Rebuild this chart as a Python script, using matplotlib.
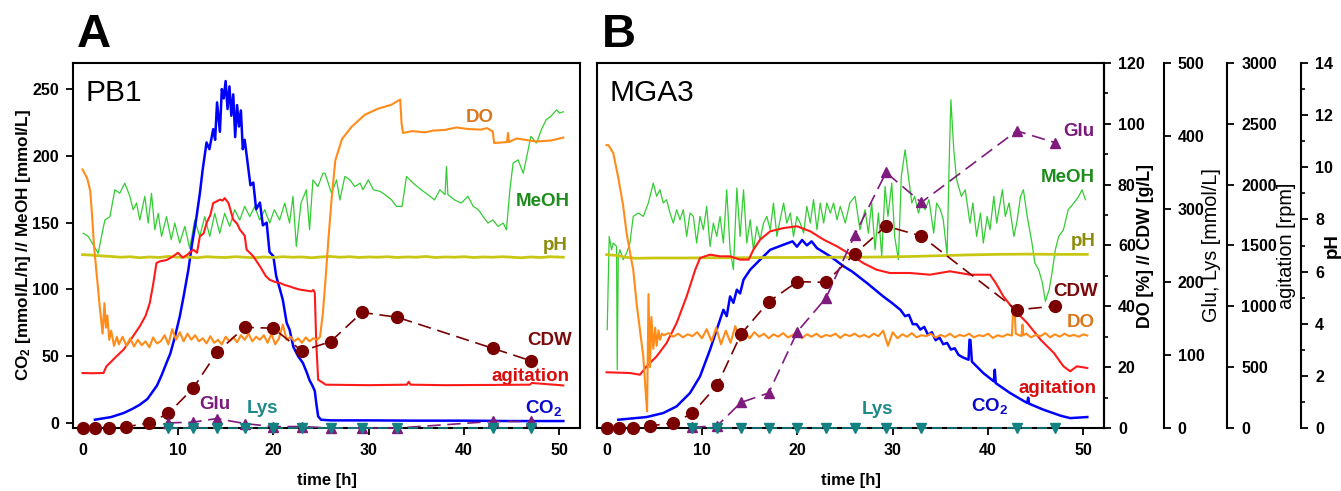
import matplotlib.pyplot as plt
from matplotlib.ticker import MultipleLocator

plt.rcParams['font.family'] = ['Liberation Sans', 'DejaVu Sans']
plt.rcParams['font.weight'] = 'bold'
plt.rcParams['mathtext.fontset'] = 'custom'
plt.rcParams['mathtext.rm'] = 'Liberation Sans'
plt.rcParams['mathtext.bf'] = 'Liberation Sans:bold'
plt.rcParams['mathtext.default'] = 'bf'
plt.rcParams['axes.linewidth'] = 1.5

# ---- offline samples (same sampling times in both runs)
sample_t = [0, 1.3, 2.8, 4.6, 7.0, 9.0, 11.6, 14.1, 17.0, 20.0, 23.0, 26.0, 29.3, 33.0, 43.0, 47.0]
amino_t = [9.0, 11.6, 14.1, 17.0, 20.0, 23.0, 26.0, 29.3, 33.0, 43.0, 47.0]

pb1_cdw = [0, 0, 0.1, 0.4, 1.7, 4.8, 13.1, 24.9, 33.1, 32.8, 25.3, 28.4, 38.0, 36.4, 26.2, 22.1]
pb1_glu = [7, 8, 13, 6, 2, 2, 0, 0, 0, 9, 9]
pb1_lys = [0, 0, 0, 0, 0, 0, 0, 0, 0, 0, 0]

mga3_cdw = [0.1, 0.1, 0.1, 0.7, 1.7, 4.8, 14.1, 30.9, 41.5, 48.1, 47.9, 57.2, 66.4, 63.1, 38.8, 40.1]
mga3_glu = [1, 3, 35, 48, 132, 178, 264, 350, 309, 407, 391]
mga3_lys = [0, 0, 0, 0, 0, 0, 0, 0, 0, 0, 0]

# ---- PB1 online signals
pb1_co2_t = [1.3, 3.0, 4.3, 5.2, 6.0, 6.8, 7.4, 7.8, 8.3, 8.8, 9.2, 9.7, 10.2, 10.6, 11.1, 11.5, 11.9, 12.3,
             12.6, 13.0, 13.3, 13.7, 13.9, 14.1, 14.4, 14.6, 14.8, 15.0, 15.2, 15.4, 15.6, 15.8, 16.0, 16.2,
             16.4, 16.6, 16.8, 17.0, 17.3, 17.6, 17.9, 18.2, 18.6, 18.9, 19.3, 19.6, 20.0, 20.3, 20.7, 21.0,
             21.4, 21.7, 22.1, 22.6, 23.1, 23.5, 23.8, 24.1, 24.35, 24.5, 24.7, 25.0, 26.0, 30.0, 35.0, 40.0,
             45.0, 50.4]
pb1_co2 = [2.5, 4.5, 7.5, 10.5, 13.7, 18, 24, 28, 36, 45, 52, 65, 80, 95, 115, 135, 152, 172,
           190, 210, 205, 220, 212, 240, 218, 250, 243, 256, 235, 252, 230, 246, 214, 238,
           222, 234, 205, 212, 195, 178, 180, 160, 165, 148, 150, 128, 125, 110, 100, 92,
           75, 70, 57, 50, 45, 38, 32, 28, 24, 15, 5, 2.5, 2, 2, 1.8, 1.8,
           1.5, 1.5]

pb1_meoh_t = [0.07, 0.6, 1.12, 1.64, 1.99, 2.34, 2.87, 3.39, 3.9, 4.43, 4.96, 5.31, 5.66, 6.0, 6.53, 6.88,
              7.23, 7.58, 7.93, 8.28, 8.8, 9.3, 9.67, 10.19, 10.72, 11.24, 11.76, 12.29, 12.81, 13.34,
              13.86, 14.38, 14.9, 15.43, 15.95, 16.48, 17.0, 17.53, 18.05, 18.57, 19.1, 19.62, 20.1,
              20.66, 21.2, 21.7, 22.06, 22.41, 22.9, 23.46, 23.8, 24.15, 24.68, 25.2, 25.41, 25.76,
              26.1, 26.63, 26.98, 27.5, 28.03, 28.55, 29.1, 29.4, 29.95, 30.5, 31.2, 31.7, 32.4, 32.9,
              33.5, 33.96, 34.66, 35.5, 36.2, 36.9, 37.46, 38.0, 38.15, 38.3, 39.0, 39.7, 40.4, 40.95,
              41.5, 42.0, 42.5, 43.0, 43.57, 44.1, 44.44, 44.8, 45.14, 45.66, 46.2, 46.5, 47.0, 47.6,
              48.1, 48.6, 49.1, 49.7, 50.0, 50.4]
pb1_meoh = [142, 139.7, 133.5, 127, 139.7, 152, 154.5, 174.6, 172, 179.6, 169.7, 159.7, 164.7, 152, 169.7, 149.7,
            172, 144.7, 157, 139.7, 154.5, 137.2, 149.7, 134.7, 147.2, 130.7, 152, 139.7, 154.5, 139.7,
            157, 142, 157, 147.2, 159.7, 152, 162.2, 154.5, 162.2, 152, 159.7, 149.7, 159.7,
            152, 164.7, 149.7, 169.7, 132.2, 164.7, 174.6, 144.7, 182, 177, 187, 187, 179.6,
            172, 182, 167, 184.6, 182, 177, 179.6, 174.6, 182, 174.6, 173.4, 171, 167, 162.2,
            162.2, 184.6, 179.6, 174.6, 171, 167, 174.6, 171, 192, 171, 167, 164.7, 169.7, 162.2,
            159.7, 154.5, 149.7, 152, 147.2, 149.7, 144.7, 174.6, 194.6, 197, 187, 197, 214.6, 209.6,
            219.6, 227, 229.6, 234.5, 232, 233]

pb1_do_t = [0, 0.5, 0.8, 1.0, 1.2, 1.5, 1.8, 2.1, 2.3, 2.45, 2.6, 2.8, 3.0, 3.3, 3.6,
            3.8, 4.2, 4.6, 5.0, 5.4, 5.8, 6.2, 6.6, 7.0, 7.4, 7.8, 8.2, 8.6, 9.0, 9.4, 9.8, 10.2, 10.6,
            11.0, 11.4, 11.8, 12.2, 12.6, 13.0, 13.4, 13.8, 14.2, 14.6, 15.0, 15.4, 15.8, 16.2, 16.6,
            17.0, 17.4, 17.8, 18.2, 18.6, 19.0, 19.4, 19.8, 20.2, 20.6, 21.0, 21.4, 21.8, 22.2, 22.6,
            23.0, 23.4, 23.8, 24.2, 24.6,
            24.9, 25.2, 25.5, 25.8, 26.1, 26.5, 27.2, 28.2, 29.6, 31.0, 32.4, 33.3, 33.45, 33.6, 34.5,
            35.9, 36.8, 38.0, 39.2, 40.4, 41.8, 42.4, 43.0, 43.15, 44.5, 44.6, 44.7, 45.5, 46.3, 47.5,
            49.1, 50.4]
pb1_do = [85, 82, 78, 70, 60, 50, 40, 31, 41, 33, 37, 29, 32, 27, 30,
          27.5, 30.0, 27.0, 29.5, 26.8, 29.0, 27.2, 28.5, 26.5, 29.8, 27.8, 28.5, 30.5, 27.5, 32.5, 29.0, 31.5, 28.5,
          31.0, 29.0, 30.5, 28.5, 29.5, 27.8, 30.2, 28.0, 29.0, 27.5, 30.0, 28.5, 29.8, 28.2, 30.5,
          29.0, 31.0, 28.5, 30.0, 29.0, 30.5, 28.0, 31.0, 27.5, 29.5, 34.0, 29.0, 30.0, 28.5, 29.5,
          28.0, 29.8, 28.5, 29.5, 29.0,
          30, 38, 50, 63, 75, 88, 95, 99, 103, 105, 106.3, 108, 100, 97, 97.6,
          97.2, 97.8, 98, 98.8, 98.3, 98.1, 98.6, 97.5, 93.7, 94, 97, 94, 95.2, 94.8, 94.2,
          94.5, 95.5]

pb1_agit_t = [0, 1.0, 2.2, 2.5, 3.0, 3.5, 4.3, 5.0, 6.0, 6.6, 7.05, 7.4, 7.75, 8.1, 8.8, 9.5, 10.0, 10.5,
              11.0, 11.6, 12.0, 12.3, 12.7, 13.0, 13.4, 13.7, 14.0, 14.4, 14.7, 14.9, 15.3, 15.8, 16.2,
              16.5, 17.0, 17.2, 17.9, 18.6, 19.2, 19.6, 20.2, 20.7, 21.2, 21.7, 22.2, 22.8, 23.4, 24.0,
              24.2, 24.35, 24.5, 24.7, 25.5, 30.0, 34.0, 34.2, 34.4, 38.0, 43.0, 46.9, 47.1, 50.4]
pb1_agit = [452, 450, 452, 507, 545, 585, 644, 720, 836, 920, 1027, 1180, 1356, 1370, 1380, 1411, 1440, 1400,
            1425, 1466, 1440, 1575, 1600, 1685, 1750, 1849, 1860, 1877, 1870, 1890, 1849, 1712, 1680,
            1630, 1580, 1466, 1411, 1329, 1250, 1219, 1200, 1192, 1175, 1164, 1150, 1137, 1130, 1123,
            1135, 1110, 700, 397, 356, 352, 356, 380, 356, 352, 354, 356, 370, 350]

pb1_ph_t = [0, 1, 2, 3, 4, 5, 6, 7, 8, 9, 10, 11, 12, 13, 14, 15, 16, 17, 18, 19, 20, 21, 22, 23, 24,
            25, 26, 27, 28, 29, 30, 31, 32, 33, 34, 35, 36, 37, 38, 39, 40, 41, 42, 43, 44, 45, 46,
            47, 48, 49, 50.4]
pb1_ph = [6.65, 6.63, 6.60, 6.58, 6.55, 6.57, 6.53, 6.56, 6.54, 6.58, 6.55, 6.56, 6.53, 6.57, 6.55, 6.54,
          6.57, 6.55, 6.53, 6.56, 6.54, 6.57, 6.55, 6.56, 6.53, 6.56, 6.58, 6.55, 6.57, 6.54, 6.56, 6.55,
          6.57, 6.54, 6.56, 6.55, 6.58, 6.54, 6.56, 6.55, 6.57, 6.54, 6.56, 6.55, 6.57, 6.55, 6.53, 6.56,
          6.54, 6.57, 6.55]

# ---- MGA3 online signals
mga3_co2_t = [1.23, 4.2, 5.95, 7.35, 8.75, 9.8, 10.85, 11.55, 12.25, 12.6, 12.95, 13.3, 13.66, 14.0, 14.36,
              15.06, 16.1, 17.16, 18.56, 19.5, 19.96, 20.5, 21.0, 21.5, 22.06, 23.46, 24.86, 25.73, 27.3,
              29.0, 29.9, 30.8, 31.3, 31.7, 32.1, 32.5, 32.9, 33.3, 33.7, 34.1, 34.5, 34.9, 35.3, 35.7,
              36.1, 36.5, 36.9, 37.4, 37.95, 38.05, 38.15, 38.3, 39.5, 40.6, 40.7, 40.8, 42.3, 44.1, 44.2,
              44.3, 45.8, 47.6, 48.6, 50.4]
mga3_co2 = [2.5, 4.5, 7.5, 12.5, 22.5, 34.9, 54.9, 69.9, 84.8, 80, 94.8, 90, 99.8, 97, 107.3,
            114.8, 122.3, 129.7, 133.5, 136, 132, 137, 133, 136, 130.9, 124.8, 117.3, 113.5, 104.8,
            94.8, 90, 84.8, 80, 81, 74, 74, 70, 72, 66, 68, 62, 64, 59, 60,
            55, 56, 51, 49, 47.4, 62.4, 62, 46, 37.4, 31.2, 39.9, 29.9, 22.5, 15, 19,
            14.5, 10, 5.5, 3.7, 4.5]

mga3_meoh_t = [0.07, 0.28, 0.53, 0.7, 1.05, 1.12, 1.23, 1.4, 1.75, 2.1, 2.45, 2.8, 3.33, 3.85, 4.38, 4.9,
               5.25, 5.6, 5.95, 6.3, 6.65, 7.0, 7.35, 7.7, 8.05, 8.4, 8.75, 9.1, 9.45, 9.8, 10.15, 10.5,
               10.85, 11.2, 11.55, 11.9, 12.25, 12.6, 12.95, 13.3, 13.66, 14.0, 14.36, 14.7, 15.06, 15.4,
               15.76, 16.1, 16.46, 16.8, 17.16, 17.5, 17.86, 18.2, 18.56, 18.9, 19.26, 19.6, 19.96, 20.3,
               20.66, 21.0, 21.36, 21.7, 22.06, 22.4, 22.76, 23.1, 23.46, 23.8, 24.16, 24.5, 25.03, 25.5,
               26.05, 26.57, 27.1, 27.45, 27.8, 28.15, 28.5, 28.85, 29.2, 29.5, 29.9, 30.2, 30.6, 30.9,
               31.3, 31.6, 32.0, 32.3, 32.7, 33.0, 33.4, 33.8, 34.3, 34.6, 35.0, 35.3, 35.7, 35.96, 36.1,
               36.4, 36.7, 37.2, 37.6, 38.1, 38.4, 38.8, 39.2, 39.5, 39.9, 40.2, 40.6, 40.9, 41.5, 41.8,
               42.2, 42.7, 43.0, 43.4, 43.7, 44.1, 44.6, 44.9, 45.3, 45.7, 46.0, 46.4, 46.7, 47.05, 47.4,
               47.9, 48.4, 48.99, 49.5, 49.85, 50.2]
mga3_meoh = [69.9, 139.7, 129.7, 134.7, 132.2, 39.9, 124.8, 129.7, 122.3, 127.3, 134.7, 154.7, 157.2, 154.7, 164.7, 179.6,
             169.7, 174.6, 164.7, 167.2, 157.2, 149.7, 159.7, 152.2, 159.7, 139.7, 157.2, 154.7, 134.7, 154.7, 144.7, 162.2,
             132.2, 149.7, 139.7, 154.7, 134.7, 174.6, 129.7, 114.8, 175.9, 139.7, 174.6, 134.7, 152.2, 129.7,
             147.2, 137.2, 149.7, 154.7, 144.7, 164.7, 139.7, 152.2, 164.7, 149.7, 157.2, 139.7, 154.7, 149.7,
             142.2, 162.2, 149.7, 167.2, 144.7, 164.7, 149.7, 164.7, 157.2, 164.7, 152.2, 162.2, 149.7, 164.7,
             169.7, 144.7, 159.7, 142.2, 164.7, 129.7, 157.2, 124.8, 177.1, 154.7, 179.6, 139.7, 122.3, 184.6,
             204.6, 187.1, 164.7, 169.7, 157.2, 164.7, 159.7, 167.2, 142.2, 164.7, 159.7, 152.2, 126.0, 207.0, 242.0,
             204.6, 182.1, 169.7, 174.6, 149.7, 164.7, 139.7, 157.2, 134.7, 154.7, 144.7, 169.7, 149.7, 174.6, 154.7,
             164.7, 139.7, 149.7, 169.7, 174.6, 154.7, 134.7, 119.8, 114.8, 104.8, 91.1, 99.8, 112.3, 129.7, 139.7,
             144.7, 159.7, 164.7, 169.7, 174.6, 167.2]

mga3_do_t = [0, 0.2, 0.7, 1.2, 1.75, 2.1, 2.5, 2.8, 3.15, 3.5, 3.85, 4.1, 4.25, 4.4, 4.55, 4.7, 4.9, 5.1,
             5.25, 5.45, 5.6, 5.8,
             6.0, 6.5, 7.0, 7.5, 8.0, 8.5, 9.0, 9.5, 10.0, 10.5, 11.0, 11.5, 12.0, 12.5, 13.0, 13.5, 14.0,
             14.5, 15.0, 15.5, 16.0, 16.5, 17.0, 17.5, 18.0, 18.5, 19.0, 19.5, 20.0, 20.5, 21.0, 21.5, 22.0,
             22.5, 23.0, 23.5, 24.0, 24.5, 25.0, 25.5, 26.0, 26.5, 27.0, 27.5, 28.0, 28.5, 29.0, 29.5, 30.0,
             30.5, 31.0, 31.5, 32.0, 32.5, 33.0, 33.5, 34.0, 34.5, 35.0, 35.5, 36.0, 36.5, 37.0, 37.5, 38.0,
             38.5, 39.0, 39.5, 40.0, 40.5, 41.0, 41.5, 42.0, 42.5,
             42.6, 42.8, 42.9, 43.5, 43.6, 43.7,
             44.0, 44.5, 45.0, 45.5, 46.0, 46.5, 47.0, 47.5, 48.0, 48.5, 49.0, 49.5, 50.0, 50.4]
mga3_do = [93, 93, 90.4, 82.8, 72.9, 64.1, 57, 52, 41, 32.3, 23.6, 12, 5.5, 44, 20, 36.5, 26, 33,
           27, 32, 29, 31,
           30.5, 31.2, 30.0, 31.0, 29.8, 30.8, 30.2, 31.5, 29.5, 32.5, 28.5, 33.0, 27.5, 32.0, 28.0, 33.5, 28.5,
           32.0, 29.5, 31.5, 30.0, 31.0, 29.5, 30.8, 30.0, 31.2, 29.8, 30.5, 31.5, 29.5, 30.8, 30.0, 31.0,
           29.8, 30.6, 30.2, 31.0, 29.6, 30.8, 30.2, 31.0, 30.0, 30.6, 29.8, 31.0, 30.2, 32.0, 27.0, 31.5,
           29.5, 30.8, 30.0, 31.2, 29.8, 30.5, 30.2, 31.0, 29.7, 30.6, 30.0, 31.0, 29.8, 30.6, 30.2, 31.0,
           29.8, 30.5, 30.2, 31.0, 29.6, 30.5, 30.0, 30.8, 30.4,
           37.5, 37.8, 31.0, 30.2, 34.0, 30.5,
           31.0, 29.8, 30.6, 30.2, 31.2, 29.8, 30.8, 30.0, 31.0, 30.2, 30.6, 30.0, 30.8, 30.4]

mga3_agit_t = [0, 2.45, 3.5, 4.2, 5.25, 6.3, 7.35, 8.4, 9.3, 9.8, 10.85, 11.9, 12.95, 14.0, 14.9, 15.4,
               16.1, 17.16, 18.6, 19.96, 21.35, 22.76, 24.16, 25.6, 26.9, 28.3, 29.7, 31.8, 33.9, 36.0,
               38.1, 40.2, 40.8, 41.6, 42.7, 44.1, 45.5, 46.9, 47.9, 48.6, 49.3, 50.4]
mga3_agit = [458, 452, 438, 507, 589, 699, 863, 1082, 1301, 1397, 1425, 1411, 1411, 1384, 1384, 1466,
             1548, 1617, 1644, 1658, 1617, 1548, 1493, 1425, 1356, 1301, 1274, 1274, 1260, 1288,
             1260, 1260, 1192, 1082, 973, 863, 726, 616, 507, 466, 507, 493]

mga3_ph_t = [0, 1, 2, 3, 5, 8, 11, 14, 17, 20, 23, 26, 29, 32, 35, 38, 41, 44, 47, 50.4]
mga3_ph = [6.65, 6.62, 6.55, 6.51, 6.52, 6.52, 6.53, 6.53, 6.54, 6.54, 6.55, 6.55, 6.56, 6.58, 6.61,
           6.64, 6.66, 6.67, 6.66, 6.66]

# ---- colours
c_co2, c_meoh, c_do, c_ph = '#0000FF', '#33CC33', '#FF8C1A', '#C8C814'
c_agit, c_cdw, c_glu, c_lys = '#FF1A1A', '#7A0000', '#7F1A7F', '#148282'

fig = plt.figure(figsize=(13.41, 4.91), dpi=100)
axA = fig.add_axes([73 / 1341, 63 / 491, 507 / 1341, 365 / 491])
axB = fig.add_axes([597 / 1341, 63 / 491, 507 / 1341, 365 / 491])


def bold_ticks(ax):
    for lbl in ax.get_xticklabels() + ax.get_yticklabels():
        lbl.set_fontweight('bold')


def draw_panel(ax, co2_t, co2, meoh_t, meoh, do_t, do, agit_t, agit, ph_t, ph, cdw, glu, lys):
    ax.set_xlim(-1, 52.15)
    ax.set_ylim(-3.7, 269.5)
    ax.set_xticks([0, 10, 20, 30, 40, 50])
    ax.tick_params(direction='out', length=5, width=1.3, labelsize=11.5, pad=6)
    ax.plot(meoh_t, meoh, color=c_meoh, lw=0.9)
    ax.plot(co2_t, co2, color=c_co2, lw=1.8)

    tw_ph = ax.twinx()
    tw_ph.set_ylim(0, 14)
    tw_ph.plot(ph_t, ph, color=c_ph, lw=2.0)

    tw_ag = ax.twinx()
    tw_ag.set_ylim(0, 3000)
    tw_ag.plot(agit_t, agit, color=c_agit, lw=1.5)

    tw_do = ax.twinx()
    tw_do.set_ylim(0, 120)
    tw_do.plot(do_t, do, color=c_do, lw=1.5)
    tw_do.plot(sample_t, cdw, color=c_cdw, lw=1.2, dashes=(8, 4), marker='o', ms=8.5,
               clip_on=False, zorder=5)

    tw_aa = ax.twinx()
    tw_aa.set_ylim(0, 500)
    tw_aa.plot(amino_t, glu, color=c_glu, lw=1.2, dashes=(8, 4), marker='^', ms=7.5, clip_on=False)
    tw_aa.plot(amino_t, lys, color=c_lys, lw=1.2, dashes=(6, 3), marker='v', ms=7.5, clip_on=False)

    ax.set_xlabel('time [h]', fontsize=12, fontweight='bold')
    ax.xaxis.set_label_coords(0.5, -0.145)
    ax.xaxis.label.set_va('center')
    return tw_do, tw_aa, tw_ag, tw_ph


twinsA = draw_panel(axA, pb1_co2_t, pb1_co2, pb1_meoh_t, pb1_meoh, pb1_do_t, pb1_do,
                    pb1_agit_t, pb1_agit, pb1_ph_t, pb1_ph, pb1_cdw, pb1_glu, pb1_lys)
for tw in twinsA:
    tw.set_axis_off()
axA.set_yticks([0, 50, 100, 150, 200, 250])
axA.tick_params(axis='y', pad=5)
axA.set_ylabel('CO$_2$ [mmol/L/h] // MeOH [mmol/L]', fontsize=12.3, fontweight='bold')
axA.yaxis.set_label_coords(-0.0986, 0.5)
axA.yaxis.label.set_va('center')
bold_ticks(axA)

twinsB = draw_panel(axB, mga3_co2_t, mga3_co2, mga3_meoh_t, mga3_meoh, mga3_do_t, mga3_do,
                    mga3_agit_t, mga3_agit, mga3_ph_t, mga3_ph, mga3_cdw, mga3_glu, mga3_lys)
axB.tick_params(axis='y', left=False, labelleft=False)
bold_ticks(axB)

right_specs = [
    (1.0, [0, 20, 40, 60, 80, 100, 120], 10, 'DO [%] // CDW [g/L]', 1.0809, 12.8, 'bold'),
    (1.118, [0, 100, 200, 300, 400, 500], None, 'Glu, Lys [mmol/L]', 1.2130, 14.3, 'normal'),
    (1.243, [0, 500, 1000, 1500, 2000, 2500, 3000], None, 'agitation [rpm]', 1.3609, 14.3, 'normal'),
    (1.389, [0, 2, 4, 6, 8, 10, 12, 14], 1, 'pH', 1.4512, 13.5, 'bold'),
]
for tw, (pos, ticks, minor, label, lx, fs, fw) in zip(twinsB, right_specs):
    for side in ['top', 'bottom', 'left']:
        tw.spines[side].set_visible(False)
    tw.spines['right'].set_position(('axes', pos))
    tw.spines['right'].set_linewidth(1.5)
    tw.set_yticks(ticks)
    if minor:
        tw.yaxis.set_minor_locator(MultipleLocator(minor))
    tw.tick_params(axis='y', which='major', direction='out', length=5, width=1.3, labelsize=11.5, pad=5)
    tw.tick_params(axis='y', which='minor', direction='out', length=3, width=1.2)
    bold_ticks(tw)
    tw.set_ylabel(label, fontsize=fs, fontweight=fw)
    tw.yaxis.set_label_coords(lx, 0.5)
    tw.yaxis.label.set_va('center')

# ---- panel letters / strain names
fig.text(77 / 1341, 1 - 47 / 491, 'A', fontsize=34, fontweight='bold', va='baseline')
fig.text(602 / 1341, 1 - 47 / 491, 'B', fontsize=34, fontweight='bold', va='baseline')
axA.text(0.0237, 0.895, 'PB1', transform=axA.transAxes, fontsize=21.5, fontweight='normal', va='baseline')
axB.text(0.0237, 0.895, 'MGA3', transform=axB.transAxes, fontsize=21.5, fontweight='normal', va='baseline')

# ---- curve labels (placed in left-axis units)
lab = dict(fontsize=13.5, fontweight='bold', va='center', zorder=10)
axA.text(41.6, 228.7, 'DO', color='#D9791F', ha='center', **lab)
axA.text(51.07, 165.6, 'MeOH', color='#1C8C1C', ha='right', **lab)
axA.text(50.86, 133, 'pH', color='#8C8C0A', ha='right', **lab)
axA.text(51.28, 61.5, 'CDW', color='#7A0A0A', ha='right', **lab)
axA.text(51.07, 35.0, 'agitation', color='#D90D0D', ha='right', **lab)
axA.text(50.3, 11.2, 'CO$_2$', color='#0A0ACC', ha='right', **lab)
axA.text(13.9, 14.0, 'Glu', color='#7A1A7A', ha='center', **lab)
axA.text(18.9, 11.0, 'Lys', color='#1F8A8A', ha='center', **lab)

axB.text(51.16, 218, 'Glu', color='#7A1A7A', ha='right', **lab)
axB.text(51.16, 183.8, 'MeOH', color='#1C8C1C', ha='right', **lab)
axB.text(51.26, 136, 'pH', color='#8C8C0A', ha='right', **lab)
axB.text(51.5, 98.8, 'CDW', color='#7A0A0A', ha='right', **lab)
axB.text(51.16, 75.2, 'DO', color='#D9791F', ha='right', **lab)
axB.text(51.4, 25.5, 'agitation', color='#D90D0D', ha='right', **lab)
axB.text(40.2, 12.7, 'CO$_2$', color='#0A0ACC', ha='center', **lab)
axB.text(28.4, 10.5, 'Lys', color='#1F8A8A', ha='center', **lab)

fig.savefig('out.png', dpi=100)
